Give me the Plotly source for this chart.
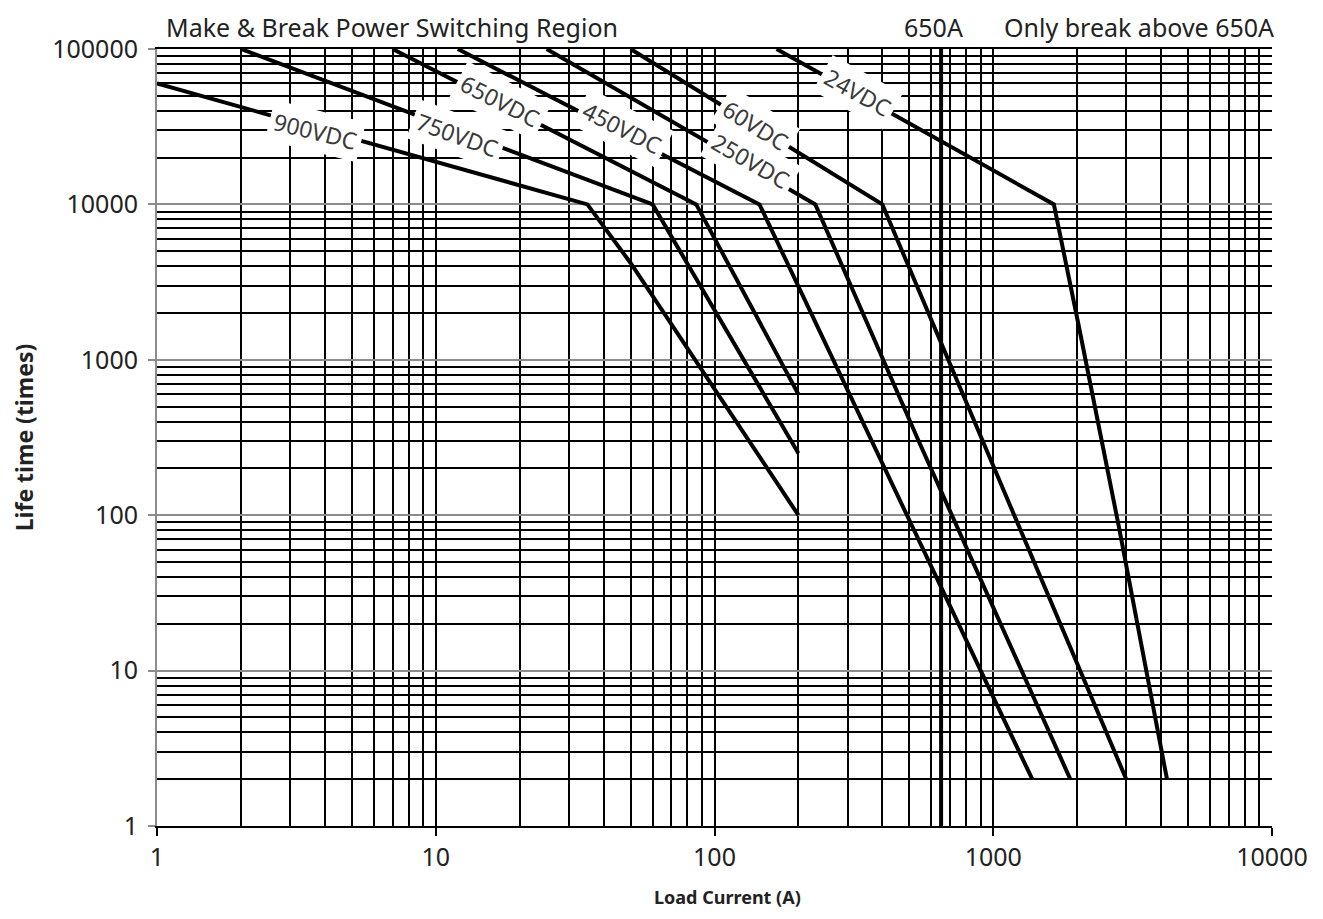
import math
import plotly.graph_objects as go

# ---------------- data ----------------
cur_900VDC = [1, 35, 50, 200]
life_900VDC = [60000, 10000, 4200, 100]

cur_750VDC = [2, 60, 200]
life_750VDC = [100000, 10000, 250]

cur_650VDC = [7, 86, 200]
life_650VDC = [100000, 10000, 600]

cur_450VDC = [12, 145, 1380]
life_450VDC = [100000, 10000, 2]

cur_250VDC = [25, 230, 540, 1890]
life_250VDC = [100000, 10000, 300, 2]

cur_60VDC = [50, 400, 3000]
life_60VDC = [100000, 10000, 2]

cur_24VDC = [167, 1650, 2020, 2820, 4200]
life_24VDC = [100000, 10000, 1700, 85, 2]

series_names = ["900VDC", "750VDC", "650VDC", "450VDC", "250VDC", "60VDC", "24VDC"]

break_current = 650  # A, "only break above"

x_tick_vals = [1, 10, 100, 1000, 10000]
x_tick_text = ["1", "10", "100", "1000", "10000"]
y_tick_vals = [1, 10, 100, 1000, 10000, 100000]
y_tick_text = ["1", "10", "100", "1000", "10000", "100000"]

x_title = "Load Current (A)"
y_title = "Life time (times)"

# ---------------- layout helpers ----------------
series = [
    (cur_900VDC, life_900VDC),
    (cur_750VDC, life_750VDC),
    (cur_650VDC, life_650VDC),
    (cur_450VDC, life_450VDC),
    (cur_250VDC, life_250VDC),
    (cur_60VDC, life_60VDC),
    (cur_24VDC, life_24VDC),
]

# inline label placement (data-space anchor, rotation in degrees)
label_layout = {
    "900VDC": (3.7, 29800, 14),
    "750VDC": (12.0, 28100, 20),
    "650VDC": (17.1, 46600, 27),
    "450VDC": (46.9, 31200, 27),
    "250VDC": (135, 18900, 30),
    "60VDC": (140, 32600, 32),
    "24VDC": (325, 52500, 29),
}

x_minor = [m * 10 ** k for k in range(4) for m in range(2, 10)]
y_minor = [m * 10 ** k for k in range(5) for m in range(2, 10)]

FONT = "Noto Sans"
TXT = "#222222"

# the page body adds an 8px margin; the figure is sized to fit inside it
FIG_W, FIG_H = 1307, 903

fig = go.Figure()

for name, (xs, ys) in zip(series_names, series):
    fig.add_trace(go.Scatter(
        x=xs, y=ys, mode="lines", name=name,
        line=dict(color="black", width=4),
        hoverinfo="skip", showlegend=False,
    ))

# 650 A boundary line
fig.add_trace(go.Scatter(
    x=[break_current, break_current], y=[y_tick_vals[0], y_tick_vals[-1]],
    mode="lines", line=dict(color="black", width=4),
    hoverinfo="skip", showlegend=False,
))

annotations = []
for name in series_names:
    lx, ly, ang = label_layout[name]
    annotations.append(dict(
        x=math.log10(lx), y=math.log10(ly), xref="x", yref="y",
        text=name, textangle=ang, showarrow=False,
        bgcolor="white", borderpad=4,
        font=dict(family=FONT, size=23, color="#3a3a3a"),
    ))

top_y = 1.028
annotations += [
    dict(x=0.0067, y=top_y, xref="paper", yref="paper", xanchor="left", yanchor="middle",
         text="Make & Break Power Switching Region", showarrow=False,
         font=dict(family=FONT, size=25, color=TXT)),
    dict(x=math.log10(break_current) - 0.027, y=top_y, xref="x", yref="paper",
         xanchor="center", yanchor="middle",
         text=f"{break_current}A", showarrow=False,
         font=dict(family=FONT, size=25, color=TXT)),
    dict(x=1.0036, y=top_y, xref="paper", yref="paper", xanchor="right", yanchor="middle",
         text=f"Only break above {break_current}A", showarrow=False,
         font=dict(family=FONT, size=25, color=TXT)),
    # x-axis title (placed slightly right of centre, as in the reference)
    dict(x=0.512, y=-0.091, xref="paper", yref="paper", xanchor="center", yanchor="middle",
         text=f"<b>{x_title}</b>", showarrow=False,
         font=dict(family=FONT, size=18, color=TXT)),
]

fig.update_layout(
    width=FIG_W, height=FIG_H,
    margin=dict(l=149, r=43, t=41, b=85),
    paper_bgcolor="white", plot_bgcolor="white",
    font=dict(family=FONT, color=TXT, size=25),
    showlegend=False,
    annotations=annotations,
    xaxis=dict(
        type="log", range=[0, 4], automargin=False,
        tickmode="array", tickvals=x_tick_vals, ticktext=x_tick_text,
        showgrid=True, gridcolor="black", gridwidth=2,
        minor=dict(tickmode="array", tickvals=x_minor, showgrid=True,
                   gridcolor="black", gridwidth=1.8, ticks=""),
        showline=True, linecolor="black", linewidth=2, mirror=True,
        ticks="outside", ticklen=8, tickwidth=2, tickcolor="black",
        tickfont=dict(family=FONT, size=25, color=TXT),
        zeroline=False,
    ),
    yaxis=dict(
        type="log", range=[0, 5], automargin=False,
        tickmode="array", tickvals=y_tick_vals, ticktext=y_tick_text,
        showgrid=True, gridcolor="#8c8c8c", gridwidth=2,
        minor=dict(tickmode="array", tickvals=y_minor, showgrid=True,
                   gridcolor="black", gridwidth=2, ticks=""),
        showline=True, linecolor="#8c8c8c", linewidth=2, mirror=False,
        ticks="outside", ticklen=7, tickwidth=2, tickcolor="#8c8c8c",
        ticklabelstandoff=5,
        tickfont=dict(family=FONT, size=25, color=TXT),
        zeroline=False,
        title=dict(text=f"<b>{y_title}</b>", standoff=16,
                   font=dict(family=FONT, size=23, color=TXT)),
    ),
)

fig.write_html("out.html")
